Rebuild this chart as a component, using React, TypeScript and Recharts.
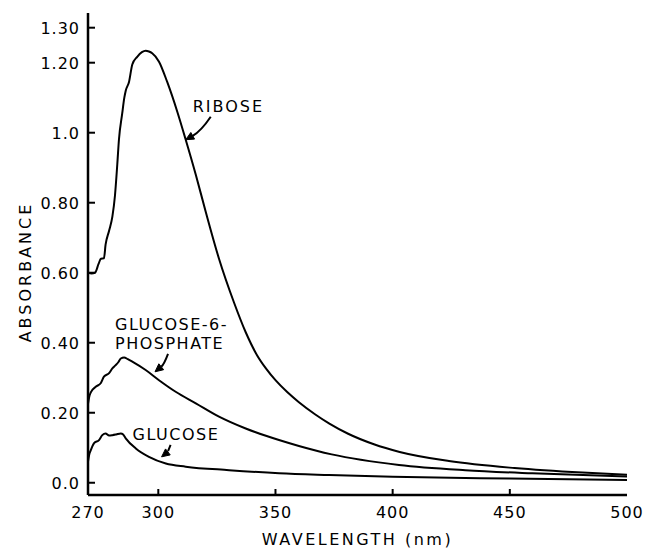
import React from 'react';
import { LineChart, Line, XAxis, YAxis, ReferenceDot } from 'recharts';

// ---- data ----
const riboseWavelength = [270, 271.5, 273, 274.5, 275.5, 276.8, 277.5, 279, 280.4, 281.5, 282.5, 283.2, 284.6, 285.5, 286.1, 287.5, 288.9, 291, 293, 294.6, 296, 297.4, 300.3, 303.8, 308.1, 311.7, 316, 320.2, 325.9, 332.3, 337.3, 342, 346, 350, 355, 360, 367, 373, 381, 392, 403, 424, 452, 481, 500];
const riboseAbsorbance = [0.6, 0.598, 0.6, 0.625, 0.64, 0.641, 0.68, 0.72, 0.76, 0.82, 0.91, 0.98, 1.055, 1.1, 1.12, 1.145, 1.195, 1.217, 1.23, 1.234, 1.232, 1.227, 1.203, 1.145, 1.06, 0.98, 0.88, 0.775, 0.64, 0.515, 0.43, 0.366, 0.326, 0.293, 0.259, 0.23, 0.195, 0.169, 0.14, 0.11, 0.088, 0.062, 0.042, 0.029, 0.023];

const g6pWavelength = [270, 270.5, 271.2, 273.3, 275.5, 276.8, 279, 280.4, 281.8, 283, 284, 285.4, 287, 288.9, 294.6, 300.3, 307.4, 316, 325.9, 337.3, 351.5, 360, 374, 402.7, 431, 459.6, 500];
const g6pAbsorbance = [0.225, 0.245, 0.258, 0.274, 0.285, 0.303, 0.313, 0.327, 0.336, 0.345, 0.355, 0.358, 0.353, 0.346, 0.322, 0.293, 0.26, 0.227, 0.189, 0.155, 0.122, 0.105, 0.081, 0.051, 0.036, 0.027, 0.018];

const glucoseWavelength = [270, 270.5, 271.2, 272.6, 274.7, 276.1, 277.5, 279, 280.4, 282, 284, 285, 286.1, 290.4, 296, 303.2, 311.7, 330.2, 351.5, 372.9, 400, 450, 500];
const glucoseAbsorbance = [0.06, 0.08, 0.093, 0.113, 0.122, 0.136, 0.141, 0.135, 0.136, 0.138, 0.141, 0.138, 0.127, 0.098, 0.074, 0.055, 0.046, 0.036, 0.027, 0.022, 0.017, 0.012, 0.008];

const xTicks = [270, 300, 350, 400, 450, 500];
const yTicks = [0, 0.2, 0.4, 0.6, 0.8, 1.0, 1.2, 1.3];
const yTickLabels = ['0.0', '0.20', '0.40', '0.60', '0.80', '1.0', '1.20', '1.30'];

// annotation anchors (arrow tips) in data units
const riboseTip = { wl: 311.7, abs: 0.98 };
const g6pTip = { wl: 298.6, abs: 0.317 };
const glucoseTip = { wl: 301.4, abs: 0.074 };

const toPoints = (wl: number[], ab: number[]) => wl.map((w, i) => ({ wl: w, abs: ab[i] }));
const riboseData = toPoints(riboseWavelength, riboseAbsorbance);
const g6pData = toPoints(g6pWavelength, g6pAbsorbance);
const glucoseData = toPoints(glucoseWavelength, glucoseAbsorbance);

const FONT = '"DejaVu Sans", sans-serif';
const X_DOMAIN: [number, number] = [270, 500];
const Y_DOMAIN: [number, number] = [-0.035, 1.342];

const BottomTick = (props: any) => {
  const { x, y, payload } = props;
  const v = payload.value;
  const inner = v > 270 && v < 500;
  return (
    <g>
      {inner && <line x1={x} y1={y} x2={x} y2={y - 6} stroke="#000" strokeWidth={2} />}
      <text x={x} y={y + 23} textAnchor="middle" fontFamily={FONT} fontSize={16} letterSpacing={1} fill="#000">
        {v}
      </text>
    </g>
  );
};

const TopTick = (props: any) => {
  const { x, y, payload } = props;
  const v = payload.value;
  if (!(v > 270 && v < 500)) return <g />;
  return <line x1={x} y1={y} x2={x} y2={y + 6} stroke="#000" strokeWidth={2} />;
};

const LeftTick = (props: any) => {
  const { x, y, payload } = props;
  const idx = yTicks.indexOf(payload.value);
  const label = idx >= 0 ? yTickLabels[idx] : String(payload.value);
  return (
    <g>
      <line x1={x} y1={y} x2={x + 7} y2={y} stroke="#000" strokeWidth={2} />
      <text x={x - 8} y={y + 6} textAnchor="end" fontFamily={FONT} fontSize={16} letterSpacing={1} fill="#000">
        {label}
      </text>
    </g>
  );
};

const arrowPath = (x1: number, y1: number, x2: number, y2: number, bend: number) => {
  const mx = (x1 + x2) / 2;
  const my = (y1 + y2) / 2;
  const dx = x2 - x1;
  const dy = y2 - y1;
  const len = Math.hypot(dx, dy) || 1;
  const nx = -dy / len;
  const ny = dx / len;
  const cx = mx + nx * bend;
  const cy = my + ny * bend;
  const ax = x2 - cx;
  const ay = y2 - cy;
  const al = Math.hypot(ax, ay) || 1;
  const ux = ax / al;
  const uy = ay / al;
  const hl = 8;
  const hw = 3.8;
  const bx = x2 - ux * hl;
  const by = y2 - uy * hl;
  return {
    line: `M${x1},${y1} Q${cx},${cy} ${bx},${by}`,
    head: `${x2},${y2} ${bx - uy * hw},${by + ux * hw} ${bx + uy * hw},${by - ux * hw}`,
  };
};

const makeAnnotation = (lines: { text: string; dx: number; dy: number }[], tail: [number, number], bend: number, spacing: number) =>
  (props: any) => {
    const { cx, cy } = props;
    if (cx == null || cy == null) return <g />;
    const a = arrowPath(cx + tail[0], cy + tail[1], cx, cy, bend);
    return (
      <g>
        {lines.map((l, i) => (
          <text key={i} x={cx + l.dx} y={cy + l.dy} fontFamily={FONT} fontSize={16} letterSpacing={spacing} fill="#000">
            {l.text}
          </text>
        ))}
        <path d={a.line} fill="none" stroke="#000" strokeWidth={2} />
        <polygon points={a.head} fill="#000" stroke="#000" strokeWidth={1} />
      </g>
    );
  };

const RiboseLabel = makeAnnotation([{ text: 'RIBOSE', dx: 7, dy: -28 }], [25, -23], -4, 2);
const G6PLabel = makeAnnotation(
  [
    { text: 'GLUCOSE-6-', dx: -40, dy: -42 },
    { text: 'PHOSPHATE', dx: -40, dy: -23 },
  ],
  [13, -18],
  -3,
  1.5,
);
const GlucoseLabel = makeAnnotation([{ text: 'GLUCOSE', dx: -29, dy: -17 }], [9, -12], -2, 1.5);

export default function App() {
  return (
    <LineChart width={651} height={547} margin={{ top: 5, right: 32, bottom: 30, left: 0 }}>
      <XAxis
        dataKey="wl"
        type="number"
        domain={X_DOMAIN}
        ticks={xTicks}
        allowDataOverflow
        height={30}
        tickSize={0}
        tickMargin={0}
        tickLine={false}
        axisLine={{ stroke: '#000', strokeWidth: 2.5 }}
        tick={<BottomTick />}
        interval={0}
        label={{
          content: (p: any) => {
            const vb = p.viewBox || {};
            return (
              <text
                x={(vb.x ?? 80) + (vb.width ?? 539) / 2}
                y={(vb.y ?? 487) + 50}
                textAnchor="middle"
                fontFamily={FONT}
                fontSize={16}
                letterSpacing={2.5}
                fill="#000"
              >
                WAVELENGTH (nm)
              </text>
            );
          },
        }}
      />
      <XAxis
        xAxisId="top"
        orientation="top"
        dataKey="wl"
        type="number"
        domain={X_DOMAIN}
        ticks={xTicks}
        allowDataOverflow
        height={0}
        tickSize={0}
        tickMargin={0}
        tickLine={false}
        axisLine={{ stroke: '#000', strokeWidth: 2.5 }}
        tick={<TopTick />}
        interval={0}
      />
      <YAxis
        type="number"
        domain={Y_DOMAIN}
        ticks={yTicks}
        allowDataOverflow
        width={80}
        tickSize={0}
        tickMargin={0}
        tickLine={false}
        axisLine={{ stroke: '#000', strokeWidth: 2.5 }}
        tick={<LeftTick />}
        interval={0}
        label={{
          content: () => {
            const cy = 264;
            const cx = 17;
            return (
              <text
                x={cx}
                y={cy}
                transform={`rotate(-90 ${cx} ${cy})`}
                textAnchor="middle"
                dominantBaseline="central"
                fontFamily={FONT}
                fontSize={16}
                letterSpacing={3}
                fill="#000"
              >
                ABSORBANCE
              </text>
            );
          },
        }}
      />
      <YAxis
        yAxisId="right"
        orientation="right"
        type="number"
        domain={Y_DOMAIN}
        allowDataOverflow
        width={0}
        tick={false}
        tickLine={false}
        axisLine={{ stroke: '#000', strokeWidth: 2.5 }}
      />
      <Line data={riboseData} dataKey="abs" type="monotone" stroke="#000" strokeWidth={2} dot={false} isAnimationActive={false} />
      <Line data={g6pData} dataKey="abs" type="monotone" stroke="#000" strokeWidth={2} dot={false} isAnimationActive={false} />
      <Line data={glucoseData} dataKey="abs" type="monotone" stroke="#000" strokeWidth={2} dot={false} isAnimationActive={false} />
      <ReferenceDot x={riboseTip.wl} y={riboseTip.abs} r={0} ifOverflow="visible" shape={RiboseLabel} />
      <ReferenceDot x={g6pTip.wl} y={g6pTip.abs} r={0} ifOverflow="visible" shape={G6PLabel} />
      <ReferenceDot x={glucoseTip.wl} y={glucoseTip.abs} r={0} ifOverflow="visible" shape={GlucoseLabel} />
    </LineChart>
  );
}
